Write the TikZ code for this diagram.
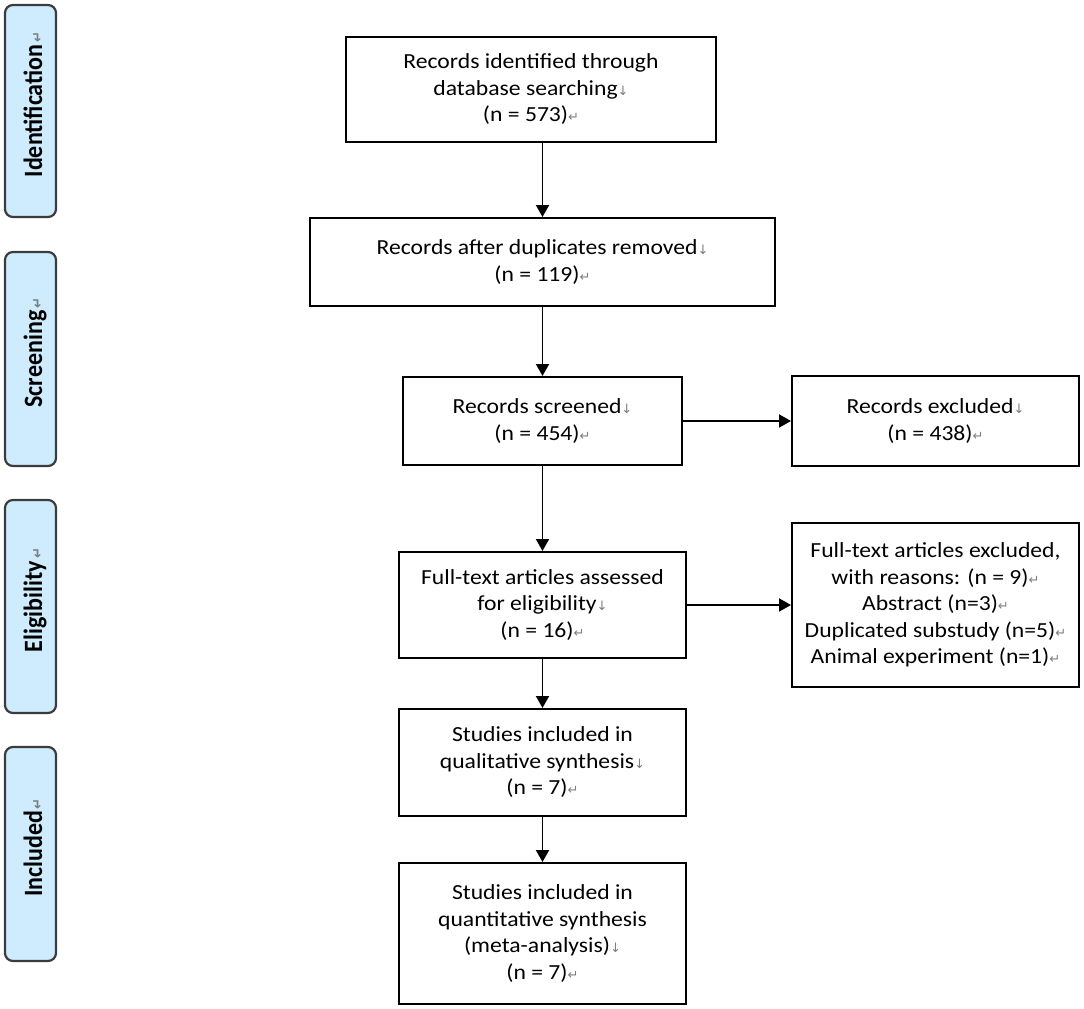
\documentclass[tikz,border=0pt]{standalone}
\usepackage{fontspec}
\setmainfont{Carlito}[FakeStretch=1.1]
\newfontfamily\sidefont{Carlito}
\newfontfamily\markfont{DejaVu Sans}
\usetikzlibrary{arrows.meta}
\definecolor{sidefill}{RGB}{206,236,254}
\definecolor{sideline}{RGB}{60,60,60}
\definecolor{markgray}{RGB}{125,125,125}
\newcommand{\brk}{{\markfont\fontsize{13}{13}\selectfont\textcolor{markgray}{↓}}}
\newcommand{\pmk}{{\markfont\fontsize{13}{13}\selectfont\textcolor{markgray}{↵}}}
\begin{document}
\begin{tikzpicture}[x=1pt,y=-1pt,
  box/.style={draw=black, line width=2pt, inner sep=0pt, align=center,
    font=\fontsize{21.5}{26.5}\selectfont},
  sidebox/.style={draw=sideline, fill=sidefill, line width=2.2pt, rounded corners=8pt,
    minimum width=51pt, inner sep=0pt},
  sidetext/.style={rotate=90, anchor=base, inner sep=0pt,
    font=\sidefont\bfseries\fontsize{24}{26}\selectfont},
  arr/.style={line width=1.9pt, -{Triangle[length=12pt,width=13pt]}}]
\useasboundingbox (0,0) rectangle (1084,1009);

% side bars
\node[sidebox, minimum height=212pt] (sb1) at (30.5,111) {};
\node[sidetext] (st1) at (42,111) {\scalebox{1}[1.1]{Identification\rlap{\kern2pt\pmk}}};
\node[sidebox, minimum height=214pt] (sb2) at (30.5,359) {};
\node[sidetext] (st2) at (42,359) {\scalebox{1}[1.1]{Screening\rlap{\kern2pt\pmk}}};
\node[sidebox, minimum height=213pt] (sb3) at (30.5,606.5) {};
\node[sidetext] (st3) at (42,606.5) {\scalebox{1}[1.1]{Eligibility\rlap{\kern2pt\pmk}}};
\node[sidebox, minimum height=214pt] (sb4) at (30.5,854) {};
\node[sidetext] (st4) at (42,854) {\scalebox{1}[1.1]{Included\rlap{\kern2pt\pmk}}};

% main boxes
\node[box, minimum width=370pt, minimum height=105pt] (b1) at (531,89.5)
  {Records identified through\\database searching\brk\\(n = 573)\pmk};
\node[box, minimum width=465pt, minimum height=88pt] (b2) at (542.5,262)
  {Records after duplicates removed\brk\\(n = 119)\pmk};
\node[box, minimum width=279pt, minimum height=88pt] (b3) at (542.5,421)
  {Records screened\brk\\(n = 454)\pmk};
\node[box, minimum width=287pt, minimum height=90pt] (b4) at (935.5,421)
  {Records excluded\brk\\(n = 438)\pmk};
\node[box, minimum width=287pt, minimum height=106pt] (b5) at (542.5,605)
  {Full-text articles assessed\\for eligibility\brk\\(n = 16)\pmk};
\node[box, minimum width=287pt, minimum height=164pt] (b6) at (935.5,605)
  {Full-text articles excluded,\\ with reasons: (n = 9)\pmk\\Abstract (n=3)\pmk\\Duplicated substudy (n=5)\pmk\\Animal experiment (n=1)\pmk};
\node[box, minimum width=287pt, minimum height=107pt] (b7) at (542.5,762.5)
  {Studies included in\\qualitative synthesis\brk\\(n = 7)\pmk};
\node[box, minimum width=287pt, minimum height=141pt] (b8) at (542.5,933.5)
  {Studies included in\\quantitative synthesis\\ (meta-analysis)\brk\\(n = 7)\pmk};

% connectors
\draw[arr] (b1.south -| b2.north) -- (b2.north);
\draw[arr] (b2.south) -- (b3.north);
\draw[arr] (b3.east) -- (b4.west);
\draw[arr] (b3.south) -- (b5.north);
\draw[arr] (b5.east) -- (b6.west);
\draw[arr] (b5.south) -- (b7.north);
\draw[arr] (b7.south) -- (b8.north);
\end{tikzpicture}
\end{document}
